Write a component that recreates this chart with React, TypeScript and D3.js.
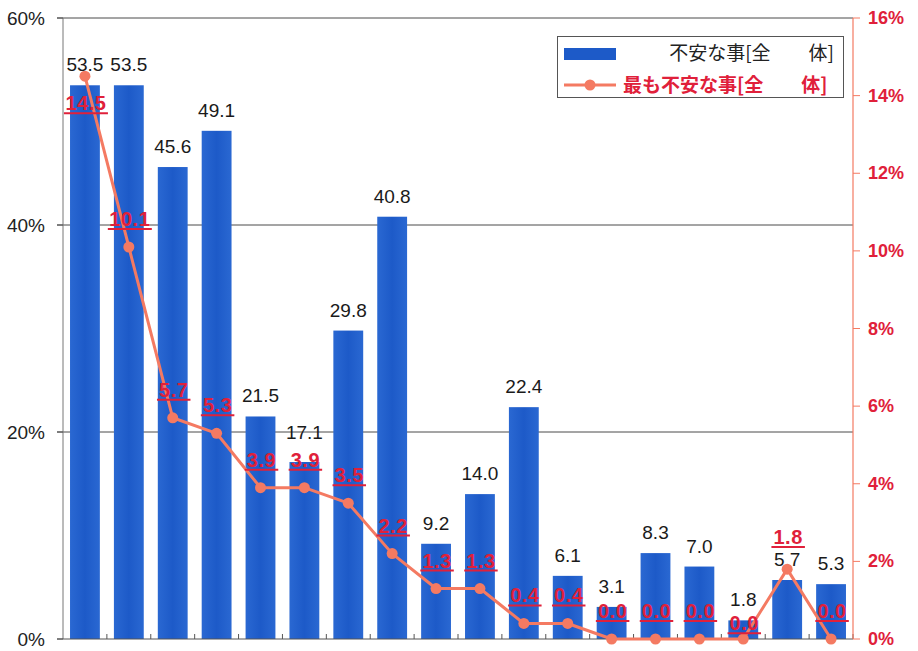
import React from "react";
import * as d3 from "d3";

const categories = ["c1","c2","c3","c4","c5","c6","c7","c8","c9","c10","c11","c12","c13","c14","c15","c16","c17","c18"];
const barValues = [53.5, 53.5, 45.6, 49.1, 21.5, 17.1, 29.8, 40.8, 9.2, 14.0, 22.4, 6.1, 3.1, 8.3, 7.0, 1.8, 5.7, 5.3];
const lineValues = [14.5, 10.1, 5.7, 5.3, 3.9, 3.9, 3.5, 2.2, 1.3, 1.3, 0.4, 0.4, 0.0, 0.0, 0.0, 0.0, 1.8, 0.0];
const leftTicks = [0, 20, 40, 60];
const rightTicks = [0, 2, 4, 6, 8, 10, 12, 14, 16];
const legendBar = "不安な事[全　　体]";
const legendLine = "最も不安な事[全　　体]";

const W = 918, H = 651;
const L = 63, R = 853, T = 18, B = 639;
const BLUE = "#1d5ac8";
const SALMON = "#f47a62";
const RED = "#e0203a";
const NUM_FONT = "'Liberation Sans', Arial, sans-serif";
const JP_FONT = "'Noto Sans CJK JP', sans-serif";

export default function App() {
  const x = d3.scaleBand<string>().domain(categories).range([L, R]).paddingInner(0.32).paddingOuter(0.16);
  const yL = d3.scaleLinear().domain([0, 60]).range([B, T]);
  const yR = d3.scaleLinear().domain([0, 16]).range([B, T]);
  const step = x.step();
  const cx = (c: string) => (x(c) as number) + x.bandwidth() / 2;
  const line = d3.line<number>().x((_, i) => cx(categories[i])).y(d => yR(d));

  // label placement with simple collision avoidance
  const placed = barValues.map((bv, i) => {
    const lv = lineValues[i];
    let bb = yL(bv) - 14; // bar label baseline
    let rb = lv > 12 ? yR(lv) + 34 : yR(lv) - 21; // red label baseline
    const overlap = bb + 4 > rb - 16 && bb - 14 < rb + 4;
    if (overlap) {
      if (yR(lv) < yL(bv)) rb = bb - 22;
      else if (lv === 0) rb = bb + 24;
      else bb = rb - 28;
    }
    return { bb, rb };
  });

  return (
    <svg width={W} height={H} style={{ position: "absolute", left: 0, top: 0, background: "#fff" }}>
      <defs>
        <linearGradient id="barGrad" x1="0" x2="1" y1="0" y2="0">
          <stop offset="0" stopColor="#2a68d2" />
          <stop offset="0.5" stopColor={BLUE} />
          <stop offset="1" stopColor="#2a68d2" />
        </linearGradient>
      </defs>
      {/* gridlines */}
      {leftTicks.filter(t => t > 0).map(t => (
        <line key={t} x1={L - 6} x2={R} y1={yL(t)} y2={yL(t)} stroke="#4a4a4a" strokeWidth={1} />
      ))}
      {/* left axis */}
      <line x1={L} x2={L} y1={T} y2={B} stroke="#777" strokeWidth={1} />
      {leftTicks.map(t => (
        <g key={t}>
          <line x1={L - 6} x2={L} y1={yL(t)} y2={yL(t)} stroke="#555" />
          <text x={45} y={yL(t) + 7} textAnchor="end" fontFamily={NUM_FONT} fontSize={19} fill="#222">{t}%</text>
        </g>
      ))}
      {/* bars */}
      {barValues.map((v, i) => (
        <rect key={i} x={x(categories[i])} y={yL(v)} width={x.bandwidth()} height={B - yL(v)} fill="url(#barGrad)" />
      ))}
      {/* bottom axis */}
      <line x1={L - 6} x2={R} y1={B} y2={B} stroke="#555" strokeWidth={1.2} />
      {categories.map((c, i) => (
        <line key={c} x1={L + step * (i + 1)} x2={L + step * (i + 1)} y1={B - 5} y2={B} stroke="#555" />
      ))}
      {/* right axis */}
      <line x1={R} x2={R} y1={T} y2={B} stroke={SALMON} strokeWidth={1.2} />
      {rightTicks.map(t => (
        <g key={t}>
          <line x1={R} x2={R + 7} y1={yR(t)} y2={yR(t)} stroke={SALMON} />
          <text x={868} y={yR(t) + 6} fontFamily={NUM_FONT} fontSize={18} fontWeight="bold" fill={RED}>{t}%</text>
        </g>
      ))}
      {/* bar labels */}
      {barValues.map((v, i) => (
        <text key={i} x={cx(categories[i])} y={placed[i].bb} textAnchor="middle" fontFamily={NUM_FONT} fontSize={19} fill="#1a1a1a">{v.toFixed(1)}</text>
      ))}
      {/* line */}
      <path d={line(lineValues) as string} fill="none" stroke={SALMON} strokeWidth={3} strokeLinejoin="round" />
      {lineValues.map((v, i) => (
        <circle key={i} cx={cx(categories[i])} cy={yR(v)} r={5.5} fill={SALMON} />
      ))}
      {/* line labels */}
      {lineValues.map((v, i) => {
        const s = v.toFixed(1);
        const by = placed[i].rb;
        const w = s.length * 10.5 + 2;
        const c = cx(categories[i]) + 1;
        return (
          <g key={i}>
            <text x={c} y={by} textAnchor="middle" fontFamily={NUM_FONT} fontSize={20} fontWeight="bold" fill={RED} letterSpacing={0.5}>{s}</text>
            <line x1={c - w / 2} x2={c + w / 2} y1={by + 3} y2={by + 3} stroke={RED} strokeWidth={2} />
          </g>
        );
      })}
      {/* legend */}
      <rect x={557.5} y={36.5} width={286} height={61} fill="#fff" stroke="#555" strokeWidth={1} />
      <rect x={564} y={48} width={52} height={12} fill={BLUE} />
      <text x={834} y={60} textAnchor="end" fontFamily={JP_FONT} fontSize={19} fill="#222">{legendBar}</text>
      <line x1={564} x2={616} y1={85} y2={85} stroke={SALMON} strokeWidth={3} />
      <circle cx={590} cy={85} r={5.5} fill={SALMON} />
      <text x={623} y={92} fontFamily={JP_FONT} fontSize={19} fontWeight="bold" fill={RED}>{legendLine}</text>
    </svg>
  );
}
